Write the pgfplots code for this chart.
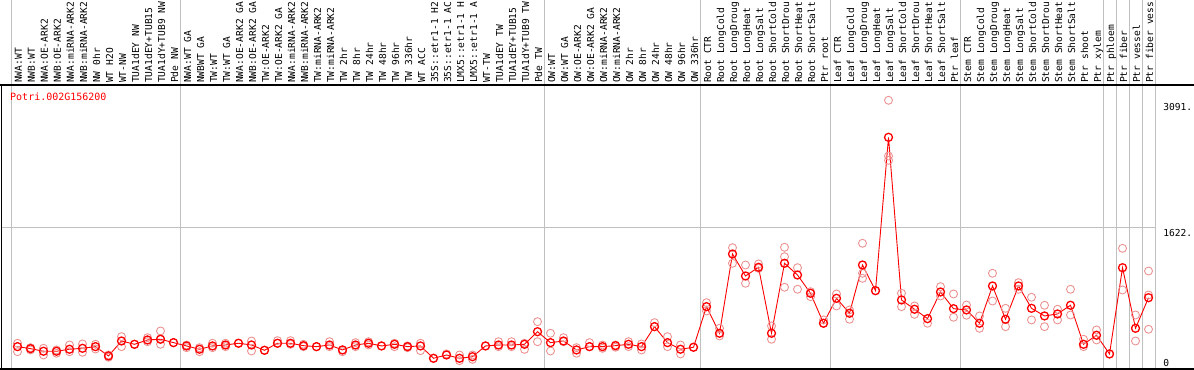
\documentclass[border=0pt]{standalone}
\usepackage{pgfplots}
\pgfplotsset{compat=1.18}
\usepackage{pgfplotstable}
\usepackage{fontspec}
\newfontfamily\mono{DejaVu Sans Mono}
\definecolor{repl}{RGB}{236,146,146}
\definecolor{gline}{RGB}{192,192,192}

\pgfplotstableread{
x y
1 257
2 234
3 204
4 204
5 227
6 238
7 257
8 150
9 322
10 284
11 334
12 342
13 303
14 265
15 227
16 265
17 276
18 296
19 276
20 215
21 296
22 296
23 268
24 257
25 276
26 219
27 276
28 296
29 265
30 284
31 257
32 265
33 123
34 161
35 123
36 141
37 265
38 276
39 276
40 284
41 429
42 303
43 322
44 219
45 257
46 257
47 268
48 284
49 257
50 487
51 303
52 227
53 250
54 717
55 411
56 1323
57 1070
58 1170
59 411
60 1216
61 1081
62 871
63 526
64 813
65 641
66 1196
67 901
68 2665
69 794
70 687
71 579
72 886
73 694
74 679
75 526
76 955
77 572
78 955
79 698
80 610
81 633
82 733
83 284
84 388
85 173
86 1165
87 468
88 820
}\meantable

\pgfplotstableread{
x y
1 296
1 199
2 245
2 219
3 238
3 161
4 219
4 181
5 276
5 199
6 288
6 192
7 284
7 230
8 161
8 135
9 372
9 257
10 284
11 360
11 314
12 437
12 342
12 284
13 303
14 276
14 245
15 245
15 199
16 296
16 245
17 296
17 257
18 296
19 322
19 207
20 215
21 326
21 296
22 326
22 284
23 284
23 257
24 257
25 314
25 257
26 219
26 199
27 303
27 257
28 314
28 276
29 265
30 296
30 257
31 265
31 245
32 296
32 211
33 123
34 173
35 161
35 96
36 161
36 111
37 265
38 314
38 257
39 314
39 257
40 296
40 226
41 544
41 314
42 411
42 207
43 360
43 314
44 245
44 181
45 303
45 257
46 276
46 238
47 276
47 250
48 314
48 257
49 288
49 219
50 533
50 487
51 372
51 257
52 276
52 173
53 250
54 763
54 667
55 468
55 380
56 1395
56 1216
57 1196
57 986
58 1208
58 1158
59 495
59 342
60 1400
60 1292
60 940
61 1165
61 917
62 889
62 832
63 564
63 526
64 863
64 725
65 679
65 572
66 1446
66 1101
66 1043
67 901
68 3091
68 2450
68 2400
69 871
69 717
70 725
70 629
71 526
72 947
72 840
73 863
73 595
74 736
74 618
75 610
75 468
76 1101
76 782
77 698
77 487
78 993
78 917
79 825
79 564
80 733
80 487
81 687
81 564
82 917
82 621
83 342
83 257
84 449
84 334
85 173
86 1388
86 909
87 621
87 322
88 1127
88 851
88 457
}\reptable

\begin{document}
\begin{tikzpicture}
\begin{axis}[
  scale only axis,
  width=1154.7pt, height=284pt,
  xmin=-0.2692, xmax=88.5538,
  ymin=0, ymax=3266.9,
  clip=false,
  axis line style={draw=none},
  major tick length=0pt,
  ytick=\empty,
  xtick={1.346,2.346,...,88.346},
  xticklabel pos=upper,
  xticklabel shift=2pt,
  xticklabel style={rotate=90, anchor=base west, inner sep=0pt,
    font=\mono\fontsize{9.6}{10}\selectfont, text=black},
  xticklabels={NWA:WT,NWB:WT,NWA:OE-ARK2,NWB:OE-ARK2,NWA:miRNA-ARK2,NWB:miRNA-ARK2,NW 0hr,WT H2O,WT-NW,TUA1dEY NW,TUA1dEY+TUB15,TUA1dY+TUB9 NW,Pde NW,
  NWA:WT GA,NWBWT GA,TW:WT,TW:WT GA,NWA:OE-ARK2 GA,NWB:OE-ARK2 GA,TW:OE-ARK2,TW:OE-ARK2 GA,NWA:miRNA-ARK2,NWB:miRNA-ARK2,TW:miRNA-ARK2,TW:miRNA-ARK2,TW 2hr,TW 8hr,TW 24hr,TW 48hr,TW 96hr,TW 336hr,WT ACC,35S::etr1-1 H2,35S::etr1-1 AC,LMX5::etr1-1 H,LMX5::etr1-1 A,WT-TW,TUA1dEY TW,TUA1dEY+TUB15,TUA1dY+TUB9 TW,Pde TW,
  OW:WT,OW:WT GA,OW:OE-ARK2,OW:OE-ARK2 GA,OW:miRNA-ARK2,OW:miRNA-ARK2,OW 2hr,OW 8hr,OW 24hr,OW 48hr,OW 96hr,OW 336hr,
  Root CTR,Root LongCold,Root LongDroug,Root LongHeat,Root LongSalt,Root ShortCold,Root ShortDrou,Root ShortHeat,Root ShortSalt,Ptr root,
  Leaf CTR,Leaf LongCold,Leaf LongDroug,Leaf LongHeat,Leaf LongSalt,Leaf ShortCold,Leaf ShortDrou,Leaf ShortHeat,Leaf ShortSalt,Ptr leaf,
  Stem CTR,Stem LongCold,Stem LongDroug,Stem LongHeat,Stem LongSalt,Stem ShortCold,Stem ShortDrou,Stem ShortHeat,Stem ShortSalt,Ptr shoot,Ptr xylem,
  Ptr phloem,Ptr fiber,Ptr vessel,Ptr fiber vess},
]
% group separators (full height)
\draw[gline, line width=1pt] (axis cs:0.5,0) -- (axis cs:0.5,4244.6);
\draw[gline, line width=1pt] (axis cs:13.5,0) -- (axis cs:13.5,4244.6);
\draw[gline, line width=1pt] (axis cs:41.5,0) -- (axis cs:41.5,4244.6);
\draw[gline, line width=1pt] (axis cs:53.5,0) -- (axis cs:53.5,4244.6);
\draw[gline, line width=1pt] (axis cs:63.5,0) -- (axis cs:63.5,4244.6);
\draw[gline, line width=1pt] (axis cs:73.5,0) -- (axis cs:73.5,4244.6);
\draw[gline, line width=1pt] (axis cs:84.5,0) -- (axis cs:84.5,4244.6);
\draw[gline, line width=1pt] (axis cs:85.5,0) -- (axis cs:85.5,4244.6);
\draw[gline, line width=1pt] (axis cs:86.5,0) -- (axis cs:86.5,4244.6);
\draw[gline, line width=1pt] (axis cs:87.5,0) -- (axis cs:87.5,4244.6);
\draw[gline, line width=1pt] (axis cs:88.5,0) -- (axis cs:88.5,4244.6);
% horizontal grid line
\draw[gline, line width=1pt] (axis cs:-0.2692,1622) -- (axis cs:88.5,1622);
% frame lines
\draw[black, line width=1.2pt] (axis cs:-0.34615,3266.9) -- (axis cs:91.5,3266.9);
\draw[black, line width=1.2pt] (axis cs:-0.34615,0) -- (axis cs:91.5,0);
\draw[black, line width=1pt] (axis cs:-0.2692,0) -- (axis cs:-0.2692,3266.9);
% replicates
\addplot[only marks, mark=o, mark size=4pt, mark options={draw=repl, line width=0.9pt}]
  table[x=x, y=y] {\reptable};
% means
\addplot[red, line width=0.9pt, mark=o, mark size=4pt,
  mark options={draw=red, fill=white, line width=1.3pt}]
  table[x=x, y=y] {\meantable};
% gene id
\node[anchor=base west, inner sep=0pt, text=red, font=\mono\fontsize{10}{11}\selectfont]
  at (axis cs:0.423, 3266.9-15.7*11.503) {Potri.002G156200};
% y labels
\node[anchor=north west, inner sep=0pt, font=\mono\fontsize{9.6}{10}\selectfont]
  at (axis cs:89.12, 3060) {3091.};
\node[anchor=north west, inner sep=0pt, font=\mono\fontsize{9.6}{10}\selectfont]
  at (axis cs:89.12, 1610) {1622.};
\node[anchor=north west, inner sep=0pt, font=\mono\fontsize{9.6}{10}\selectfont]
  at (axis cs:89.12, 115) {0};
\coordinate (bl) at (axis cs:-0.34615,-11.503);
\coordinate (tr) at (axis cs:91.5,4244.6);
\end{axis}
\pgfresetboundingbox
\path[use as bounding box] (bl) rectangle (tr);
\end{tikzpicture}
\end{document}
